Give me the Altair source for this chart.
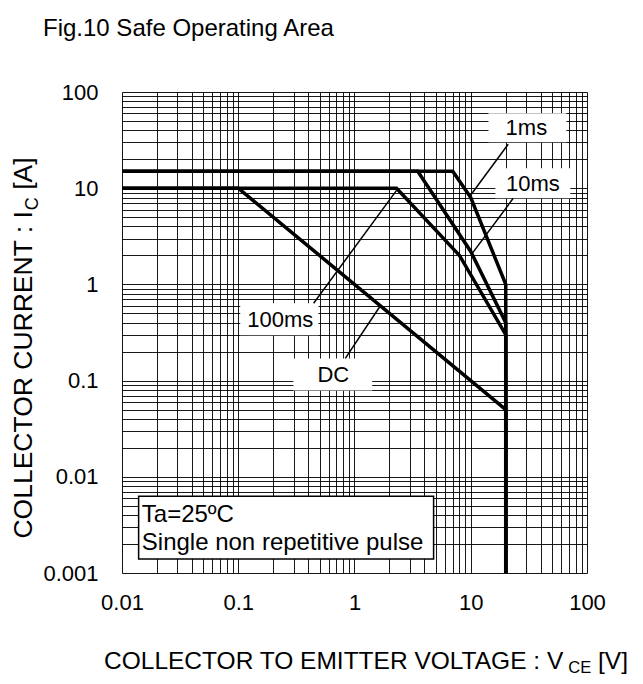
import altair as alt
import pandas as pd

# ---------------- data ----------------
SERIES = ["1ms", "10ms", "100ms", "DC"]
V_1MS = [0.01, 7.0, 10.0, 20.0, 20.0]
I_1MS = [15.0, 15.0, 8.0, 1.0, 0.001]
V_10MS = [0.01, 3.5, 10.0, 20.0, 20.0]
I_10MS = [15.0, 15.0, 2.2, 0.4, 0.001]
V_100MS = [0.01, 2.3, 8.0, 20.0, 20.0]
I_100MS = [10.0, 10.0, 2.0, 0.3, 0.001]
V_DC = [0.01, 0.1, 20.0, 20.0]
I_DC = [10.0, 10.0, 0.05, 0.001]

X_DECADES = [0.01, 0.1, 1, 10, 100]
Y_DECADES = [0.001, 0.01, 0.1, 1, 10, 100]
MINOR = [1, 2, 3, 4, 5, 6, 7, 8, 9]

# callout labels (data coordinates)
LABEL_TEXT = ["1ms", "10ms", "100ms", "DC"]
LABEL_V = [30.1, 34.2, 0.23, 0.657]
LABEL_I = [42.0, 11.0, 0.424, 0.1135]
BOX_V1 = [14.2, 16.3, 0.104, 0.298]
BOX_V2 = [66.4, 71.8, 0.489, 1.42]
BOX_I1 = [30.0, 7.85, 0.296, 0.079]
BOX_I2 = [60.1, 16.1, 0.637, 0.17]
LEAD_V1 = [21.0, 23.2, 0.445, 0.834]
LEAD_I1 = [28.6, 7.85, 0.637, 0.17]
LEAD_V2 = [10.0, 10.3, 2.3, 1.67]
LEAD_I2 = [8.5, 2.1, 9.5, 0.6]

NOTE_LINES = ["Ta=25ºC", "Single non repetitive pulse"]
NOTE_V = [0.0148, 0.0148]
NOTE_I = [0.00339, 0.00175]
NOTE_BOX_V = [0.0139, 4.79]
NOTE_BOX_I = [0.0014, 0.00627]

TITLE = "Fig.10 Safe Operating Area"
X_TITLE = ["COLLECTOR TO EMITTER VOLTAGE : V", "CE", " [V]"]
Y_TITLE = ["COLLECTOR CURRENT : I", "C", " [A]"]

FONT = "Liberation Sans"

# ---------------- tables ----------------
rows = []
for name, vs, cs in zip(SERIES, [V_1MS, V_10MS, V_100MS, V_DC],
                        [I_1MS, I_10MS, I_100MS, I_DC]):
    for k, (v, c) in enumerate(zip(vs, cs)):
        rows.append({"series": name, "v": v, "i": c, "k": k})
curves = pd.DataFrame(rows)

callouts = pd.DataFrame({
    "t": LABEL_TEXT, "v": LABEL_V, "i": LABEL_I,
    "bv1": BOX_V1, "bv2": BOX_V2, "bi1": BOX_I1, "bi2": BOX_I2,
    "lv1": LEAD_V1, "li1": LEAD_I1, "lv2": LEAD_V2, "li2": LEAD_I2,
})
note = pd.DataFrame({"t": NOTE_LINES, "v": NOTE_V, "i": NOTE_I})
note_box = pd.DataFrame({"v": [NOTE_BOX_V[0]], "v2": [NOTE_BOX_V[1]],
                         "i": [NOTE_BOX_I[0]], "i2": [NOTE_BOX_I[1]]})

X_GRID = [round(m * d, 6) for d in X_DECADES[:-1] for m in MINOR] + [X_DECADES[-1]]
Y_GRID = [round(m * d, 6) for d in Y_DECADES[:-1] for m in MINOR] + [Y_DECADES[-1]]

label_expr = ("abs(log(datum.value)/LN10 - round(log(datum.value)/LN10)) < 0.001"
              " ? format(datum.value, '~g') : ''")

xs = alt.Scale(type="log", domain=[0.01, 100], nice=False)
ys = alt.Scale(type="log", domain=[0.001, 100], nice=False)

x_axis = alt.Axis(values=X_GRID, grid=True, gridColor="black", gridWidth=1,
                  gridOpacity=0.9, ticks=False, tickSize=0, domain=False,
                  labelExpr=label_expr, labelFontSize=22, labelFont=FONT,
                  labelColor="black", labelPadding=19, labelFlush=False,
                  labelOverlap=False, labelBaseline="top", title=None)
y_axis = alt.Axis(values=Y_GRID, grid=True, gridColor="black", gridWidth=1,
                  gridOpacity=0.9, ticks=False, tickSize=0, domain=False,
                  labelExpr=label_expr, labelFontSize=22, labelFont=FONT,
                  labelColor="black", labelPadding=24, labelFlush=False,
                  labelOverlap=False, title=None)


def X(f):
    return alt.X(f, type="quantitative", scale=xs, axis=x_axis, title=None)


def Y(f):
    return alt.Y(f, type="quantitative", scale=ys, axis=y_axis, title=None)


lines = alt.Chart(curves).mark_line(color="black", strokeWidth=3.5,
                                    strokeJoin="miter").encode(
    x=X("v"), y=Y("i"), detail="series:N", order="k:Q")

boxes = alt.Chart(callouts).mark_rect(fill="white").encode(
    x=X("bv1"), x2="bv2", y=Y("bi1"), y2="bi2")

leaders = alt.Chart(callouts).mark_rule(color="black", strokeWidth=1.5).encode(
    x=X("lv1"), y=Y("li1"), x2="lv2", y2="li2")

labels = alt.Chart(callouts).mark_text(font=FONT, fontSize=22, color="black",
                                       align="center", baseline="middle").encode(
    x=X("v"), y=Y("i"), text="t:N")

nbox = alt.Chart(note_box).mark_rect(fill="white", stroke="black",
                                     strokeWidth=1.5).encode(
    x=X("v"), x2="v2", y=Y("i"), y2="i2")

ntext = alt.Chart(note).mark_text(font=FONT, fontSize=24, color="black",
                                  align="left", baseline="alphabetic").encode(
    x=X("v"), y=Y("i"), text="t:N")

# ---- titles (text pieces positioned around the plot) ----
AW = {'C': .722, 'O': .778, 'L': .556, 'E': .667, 'T': .611, 'R': .722,
      ' ': .278, 'M': .833, 'I': .278, 'V': .667, 'A': .667, 'G': .778,
      ':': .278, 'U': .722, 'N': .722, '[': .278, ']': .278}


def tw(s, size):
    return sum(AW[c] for c in s) * size


one = pd.DataFrame({"a": [0]})

# x title: pieces laid out left to right (leading spaces become advances)
FX_T, FX_S = 24.5, 16.5
x_pieces = [(X_TITLE[0], FX_T, 0), (X_TITLE[1], FX_S, 4), (X_TITLE[2], FX_T, 0)]
xw = sum(tw(t, f) for t, f, _ in x_pieces)
pos = 244 - xw / 2
xb = 577
x_parts = []
for txt, fs, dy in x_pieces:
    lead = len(txt) - len(txt.lstrip(" "))
    pos += tw(" " * lead, fs)
    body = txt.lstrip(" ")
    x_parts.append(alt.Chart(one).mark_text(
        text=body, font=FONT, fontSize=fs, color="black", align="left",
        baseline="alphabetic").encode(x=alt.value(pos), y=alt.value(xb + dy)))
    pos += tw(body, fs)

# y title (rotated, reading bottom to top)
FY_T, FY_S = 26.5, 18
y_pieces = [(Y_TITLE[0], FY_T, 0), (Y_TITLE[1], FY_S, 6), (Y_TITLE[2], FY_T, 0)]
yw = sum(tw(t, f) for t, f, _ in y_pieces)
pos = 256 + yw / 2
yb = -90
y_parts = []
for txt, fs, dx in y_pieces:
    lead = len(txt) - len(txt.lstrip(" "))
    pos -= tw(" " * lead, fs)
    body = txt.lstrip(" ")
    y_parts.append(alt.Chart(one).mark_text(
        text=body, font=FONT, fontSize=fs, color="black", align="left",
        baseline="alphabetic", angle=270).encode(x=alt.value(yb + dx), y=alt.value(pos)))
    pos -= tw(body, fs)

title = alt.Chart(one).mark_text(
    text=TITLE, font=FONT, fontSize=24, color="black", align="left",
    baseline="alphabetic").encode(x=alt.value(-79), y=alt.value(-56))

chart = alt.layer(lines, boxes, nbox, leaders, labels, ntext, title,
                  *x_parts, *y_parts).properties(
    width=465, height=481,
    autosize=alt.AutoSizeParams(type="none"),
    padding={"left": 114, "top": 84, "right": 48, "bottom": 103},
).configure_view(stroke="black", strokeWidth=2.5).configure(font=FONT)

chart.save("out.html", embed_options={"renderer": "svg", "actions": False})
